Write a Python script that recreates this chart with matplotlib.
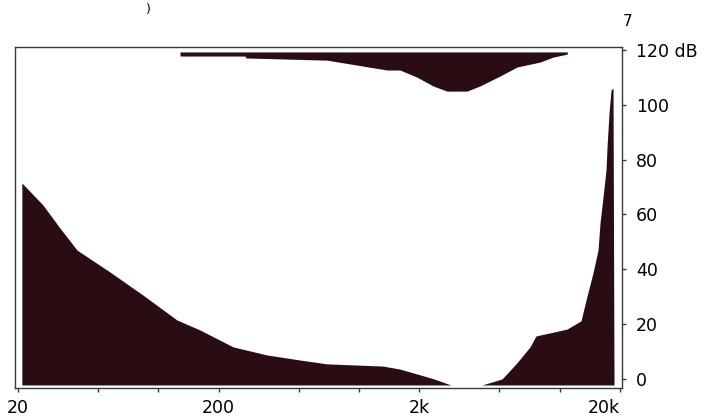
import matplotlib
matplotlib.use("Agg")
import matplotlib.pyplot as plt
from matplotlib.ticker import FixedLocator, NullLocator

# Threshold of hearing (lower dark area), Hz / dB
hear_freq = [20.9, 26.6, 32.4, 39.4, 57.5, 83.9, 124, 161, 236, 348, 509, 693, 1318,
             1602, 2015, 2366, 2876, 4104, 5164, 6064, 7120, 7628, 8958, 10888,
             12782, 13538, 14672, 15538, 15898, 16455, 17032, 17230, 17632,
             18040, 18458, 18672]
hear_db = [71.5, 63.5, 55.0, 47.0, 39.0, 30.6, 21.5, 17.9, 11.7, 8.75, 6.9, 5.5, 4.7,
           3.6, 1.5, 0.0, -2.2, -2.2, 0.0, 5.5, 11.7, 15.7, 16.8, 18.2,
           21.2, 28.8, 38.7, 47.0, 56.9, 66.4, 76.2, 84.6, 97.0,
           105.4, 106.1, -2.2]

# Threshold of pain (upper dark area), Hz / dB
pain_freq = [128.4, 270.6, 273.7, 693, 978, 1380, 1602, 1946, 2340, 2746, 3456,
             4012, 5046, 6134, 7988, 9272, 10888, 10950]
pain_db = [117.8, 117.8, 117.1, 116.3, 114.5, 112.7, 112.7, 110.1, 106.9, 105.0,
           105.0, 106.9, 110.5, 113.8, 115.6, 117.4, 118.5, 119.3]

floor_db = -2.2
ceiling_db = 119.3

x_ticks = [20, 50, 100, 200, 500, 1000, 2000, 5000, 10000, 20000]
x_labels = ["20", "", "", "200", "", "", "2k", "", "", "20k"]
y_ticks = [0, 20, 40, 60, 80, 100, 120]
y_labels = ["0", "20", "40", "60", "80", "100", "120 dB"]

fill_color = "#2a0d12"
frame_color = "#3a3a3a"

fig = plt.figure(figsize=(7.06, 4.19), dpi=100)
ax = fig.add_axes([15 / 706, 31 / 419, 607 / 706, 341 / 419])

ax.fill_between(hear_freq, floor_db, hear_db, color=fill_color, linewidth=0)
ax.fill_between(pain_freq, pain_db, ceiling_db, color=fill_color, linewidth=0)

ax.set_xscale("log")
ax.set_xlim(19.32, 20461)
ax.set_ylim(-3.3, 121.1)

ax.xaxis.set_major_locator(FixedLocator(x_ticks))
ax.xaxis.set_minor_locator(NullLocator())
ax.set_xticklabels(x_labels)
ax.yaxis.tick_right()
ax.set_yticks(y_ticks)
ax.set_yticklabels(y_labels)

ax.tick_params(axis="both", direction="out", length=3, width=1,
               color=frame_color, labelsize=12.5, labelcolor="black")
ax.tick_params(axis="x", pad=5)
ax.tick_params(axis="y", pad=7)
ax.get_xticklabels()[-1].set_horizontalalignment("right")

for sp in ax.spines.values():
    sp.set_color(frame_color)
    sp.set_linewidth(1.0)

fig.text(628 / 706, 1 - 22 / 419, "7", fontsize=11, ha="center", va="center")
fig.text(148 / 706, 1 - 9 / 419, ")", fontsize=9, ha="center", va="center")

fig.savefig("out.png", dpi=100, facecolor="white")
